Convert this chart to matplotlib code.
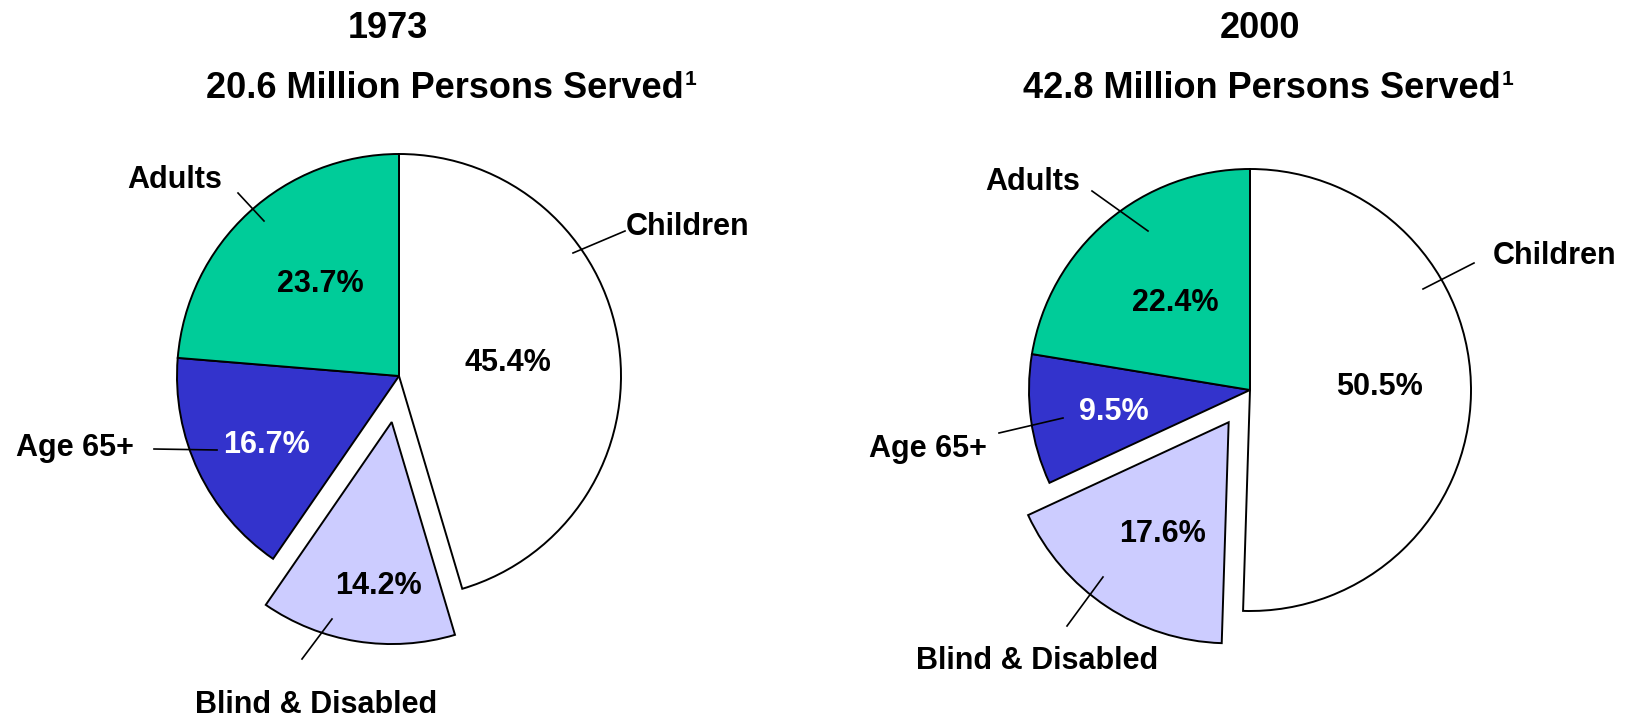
import matplotlib
matplotlib.use('Agg')
import matplotlib.pyplot as plt

plt.rcParams['font.family'] = ['Liberation Sans', 'DejaVu Sans']
plt.rcParams['font.weight'] = 'bold'

# data
categories = ['Children', 'Blind & Disabled', 'Age 65+', 'Adults']
colors = ['#FFFFFF', '#CCCCFF', '#3333CC', '#00CC99']
pct_colors = ['black', 'black', 'white', 'black']
years = ['1973', '2000']
persons_served = [20.6, 42.8]
shares_1973 = [45.4, 14.2, 16.7, 23.7]
shares_2000 = [50.5, 17.6, 9.5, 22.4]
all_shares = [shares_1973, shares_2000]

W, H = 1626, 717

# layout, in pixels of the output image (x right, y down)
layouts = [
    dict(center=(399, 376), radius=222, explode=[0, 0.21, 0, 0],
         title_x=(388, 445),
         pct_pos=[(508, 371), (378, 594), (266, 453), (320, 292)],
         label_pos=[(688, 235), (316, 713), (75, 456), (175, 188)],
         leaders=[((625, 231), (573, 253)), ((302, 659), (332, 619)),
                  ((154, 449), (217, 450)), ((238, 193), (264, 221))]),
    dict(center=(1250, 390), radius=221, explode=[0, 0.175, 0, 0],
         title_x=(1260, 1262),
         pct_pos=[(1379, 395), (1162, 542), (1114, 420), (1175, 311)],
         label_pos=[(1555, 264), (1037, 669), (928, 457), (1033, 190)],
         leaders=[((1474, 263), (1423, 289)), ((1067, 626), (1103, 577)),
                  ((999, 433), (1063, 418)), ((1092, 191), (1148, 231))]),
]

fig = plt.figure(figsize=(W / 100, H / 100), dpi=100)

lim = 1.4
for shares, lay in zip(all_shares, layouts):
    cx, cy = lay['center']
    r = lay['radius']
    half = r * lim
    ax = fig.add_axes([(cx - half) / W, 1 - (cy + half) / H, 2 * half / W, 2 * half / H])
    ax.pie(shares, colors=colors, explode=lay['explode'], startangle=90,
           counterclock=False, radius=1,
           wedgeprops=dict(edgecolor='black', linewidth=1.4))
    ax.set_xlim(-lim, lim)
    ax.set_ylim(-lim, lim)
    ax.axis('off')

# overlay for text and leader lines
ov = fig.add_axes([0, 0, 1, 1])
ov.set_xlim(0, W)
ov.set_ylim(H, 0)
ov.axis('off')
renderer = fig.canvas.get_renderer()

for year, persons, shares, lay in zip(years, persons_served, all_shares, layouts):
    tx1, tx2 = lay['title_x']
    ov.text(tx1, 38, year, ha='center', va='baseline', fontsize=26, fontweight='bold')
    t = ov.text(tx2, 98, f'{persons} Million Persons Served',
                ha='center', va='baseline', fontsize=26, fontweight='bold')
    # footnote marker
    x_end = t.get_window_extent(renderer=renderer).x1
    ov.text(x_end + 1, 85, '1', ha='left', va='baseline', fontsize=15, fontweight='bold')
    for i, cat in enumerate(categories):
        px, py = lay['pct_pos'][i]
        ov.text(px, py, f'{shares[i]:.1f}%', ha='center', va='baseline',
                fontsize=22, fontweight='bold', color=pct_colors[i])
        lx, ly = lay['label_pos'][i]
        ov.text(lx, ly, cat, ha='center', va='baseline', fontsize=22, fontweight='bold')
        (x0, y0), (x1, y1) = lay['leaders'][i]
        ov.plot([x0, x1], [y0, y1], color='black', linewidth=1.2)

fig.savefig('out.png', dpi=100)
